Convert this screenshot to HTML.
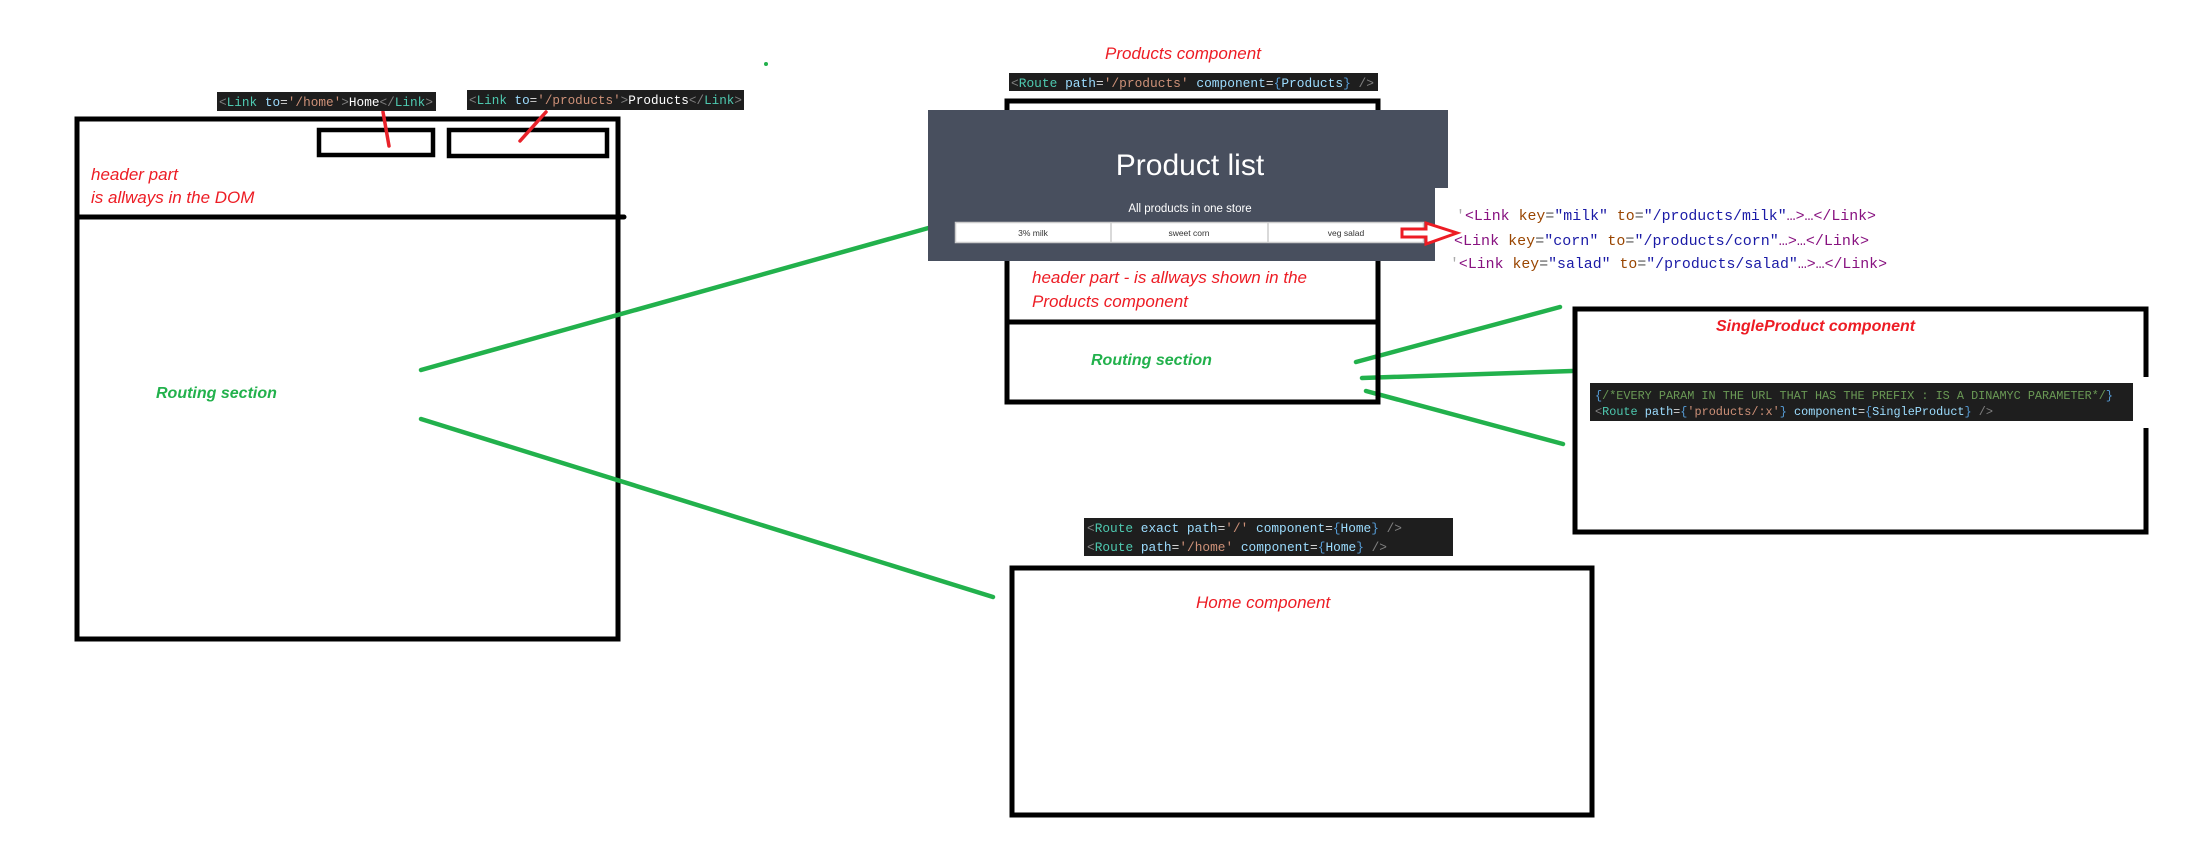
<!DOCTYPE html>
<html><head><meta charset="utf-8"><style>
html,body{margin:0;padding:0;background:#fff;}
svg{display:block}
.m{font-family:"Liberation Mono",monospace;}
.s{font-family:"Liberation Sans",sans-serif;}
</style></head><body>
<svg width="2212" height="848" viewBox="0 0 2212 848" xmlns="http://www.w3.org/2000/svg">
<rect width="2212" height="848" fill="#fff"/>
<circle cx="766" cy="64" r="2" fill="#22b14c"/>

<rect x="77" y="119" width="541" height="520" fill="none" stroke="#000" stroke-width="5"/>
<line x1="77" y1="217" x2="624" y2="217" stroke="#000" stroke-width="5" stroke-linecap="round"/>
<rect x="319" y="130" width="114" height="25" fill="none" stroke="#000" stroke-width="4.5"/>
<rect x="449" y="130" width="158" height="26" fill="none" stroke="#000" stroke-width="4.5"/>
<line x1="383" y1="112" x2="389" y2="146" stroke="#e8222a" stroke-width="3.5" stroke-linecap="round"/>
<line x1="546" y1="112" x2="520" y2="141" stroke="#e8222a" stroke-width="3.5" stroke-linecap="round"/>
<rect x="217" y="92" width="219" height="19" fill="#1e1e1e"/>
<text class="m" x="219" y="106" font-size="13" textLength="214" lengthAdjust="spacingAndGlyphs"><tspan fill="#808080">&lt;</tspan><tspan fill="#4ec9b0">Link</tspan> <tspan fill="#9cdcfe">to</tspan><tspan fill="#d4d4d4">=</tspan><tspan fill="#ce9178">'/home'</tspan><tspan fill="#808080">&gt;</tspan><tspan fill="#fff">Home</tspan><tspan fill="#808080">&lt;/</tspan><tspan fill="#4ec9b0">Link</tspan><tspan fill="#808080">&gt;</tspan></text>
<rect x="467" y="90" width="277" height="20" fill="#1e1e1e"/>
<text class="m" x="469" y="104" font-size="13" textLength="273" lengthAdjust="spacingAndGlyphs"><tspan fill="#808080">&lt;</tspan><tspan fill="#4ec9b0">Link</tspan> <tspan fill="#9cdcfe">to</tspan><tspan fill="#d4d4d4">=</tspan><tspan fill="#ce9178">'/products'</tspan><tspan fill="#808080">&gt;</tspan><tspan fill="#fff">Products</tspan><tspan fill="#808080">&lt;/</tspan><tspan fill="#4ec9b0">Link</tspan><tspan fill="#808080">&gt;</tspan></text>
<text class="s" x="91" y="180" font-size="17" font-style="italic" fill="#ed1c24">header part</text>
<text class="s" x="91" y="203" font-size="17" font-style="italic" fill="#ed1c24">is allways in the DOM</text>
<text class="s" x="156" y="398" font-size="16" font-style="italic" font-weight="bold" fill="#22b14c">Routing section</text>

<g stroke="#22b14c" stroke-width="4.5" stroke-linecap="round">
<line x1="421" y1="370" x2="932" y2="227"/>
<line x1="421" y1="419" x2="993" y2="597"/>
<line x1="1356" y1="362" x2="1560" y2="307"/>
<line x1="1362" y1="378" x2="1572" y2="371"/>
<line x1="1366" y1="391" x2="1563" y2="444"/>
</g>

<text class="s" x="1105" y="59" font-size="17" font-style="italic" fill="#ed1c24">Products component</text>
<rect x="1009" y="73" width="369" height="18" fill="#1e1e1e"/>
<text class="m" x="1011" y="87" font-size="13" textLength="363" lengthAdjust="spacingAndGlyphs"><tspan fill="#808080">&lt;</tspan><tspan fill="#4ec9b0">Route</tspan> <tspan fill="#9cdcfe">path</tspan><tspan fill="#d4d4d4">=</tspan><tspan fill="#ce9178">'/products'</tspan> <tspan fill="#9cdcfe">component</tspan><tspan fill="#d4d4d4">=</tspan><tspan fill="#569cd6">{</tspan><tspan fill="#9cdcfe">Products</tspan><tspan fill="#569cd6">}</tspan> <tspan fill="#808080">/&gt;</tspan></text>
<rect x="1007" y="101" width="371" height="301" fill="none" stroke="#000" stroke-width="5"/>
<line x1="1007" y1="322" x2="1378" y2="322" stroke="#000" stroke-width="5"/>
<polygon points="928,110 1448,110 1448,188 1435,188 1435,261 928,261" fill="#484f5e"/>
<text class="s" x="1190" y="175" font-size="30" fill="#fff" text-anchor="middle">Product list</text>
<text class="s" x="1190" y="212" font-size="11.5" fill="#fff" text-anchor="middle">All products in one store</text>
<rect x="955.5" y="222.5" width="468" height="20" fill="#fff" stroke="#ccc" stroke-width="1.5"/>
<line x1="1111" y1="222" x2="1111" y2="243" stroke="#ccc" stroke-width="1.5"/>
<line x1="1268" y1="222" x2="1268" y2="243" stroke="#ccc" stroke-width="1.5"/>
<text class="s" x="1033" y="236" font-size="8.5" fill="#333" text-anchor="middle">3% milk</text>
<text class="s" x="1189" y="236" font-size="8.5" fill="#333" text-anchor="middle">sweet corn</text>
<text class="s" x="1346" y="236" font-size="8.5" fill="#333" text-anchor="middle">veg salad</text>
<polygon points="1402,229 1426,229 1426,223 1457,233 1426,244 1426,237 1402,237" fill="#fff" stroke="#ed1c24" stroke-width="3"/>
<text class="s" x="1032" y="283" font-size="17" font-style="italic" fill="#ed1c24">header part - is allways shown in the</text>
<text class="s" x="1032" y="307" font-size="17" font-style="italic" fill="#ed1c24">Products component</text>
<text class="s" x="1091" y="365" font-size="16" font-style="italic" font-weight="bold" fill="#22b14c">Routing section</text>

<g class="m" font-size="15">
<text x="1456" y="220" textLength="420" lengthAdjust="spacingAndGlyphs"><tspan fill="#aaa">'</tspan><tspan fill="#881280">&lt;Link</tspan> <tspan fill="#994500">key</tspan><tspan fill="#555">=</tspan><tspan fill="#1a1aa6">"milk"</tspan> <tspan fill="#994500">to</tspan><tspan fill="#555">=</tspan><tspan fill="#1a1aa6">"/products/milk"</tspan><tspan fill="#881280">…&gt;…&lt;/Link&gt;</tspan></text>
<text x="1454" y="245" textLength="415" lengthAdjust="spacingAndGlyphs"><tspan fill="#881280">&lt;Link</tspan> <tspan fill="#994500">key</tspan><tspan fill="#555">=</tspan><tspan fill="#1a1aa6">"corn"</tspan> <tspan fill="#994500">to</tspan><tspan fill="#555">=</tspan><tspan fill="#1a1aa6">"/products/corn"</tspan><tspan fill="#881280">…&gt;…&lt;/Link&gt;</tspan></text>
<text x="1450" y="268" textLength="437" lengthAdjust="spacingAndGlyphs"><tspan fill="#aaa">'</tspan><tspan fill="#881280">&lt;Link</tspan> <tspan fill="#994500">key</tspan><tspan fill="#555">=</tspan><tspan fill="#1a1aa6">"salad"</tspan> <tspan fill="#994500">to</tspan><tspan fill="#555">=</tspan><tspan fill="#1a1aa6">"/products/salad"</tspan><tspan fill="#881280">…&gt;…&lt;/Link&gt;</tspan></text>
</g>

<rect x="1575" y="309" width="571" height="223" fill="none" stroke="#000" stroke-width="5"/>
<rect x="2140" y="377" width="12" height="51" fill="#fff"/>
<text class="s" x="1716" y="331" font-size="16" font-style="italic" font-weight="bold" fill="#ed1c24">SingleProduct component</text>
<rect x="1590" y="383" width="543" height="38" fill="#1e1e1e"/>
<text class="m" x="1595" y="399" font-size="11.5" textLength="518" lengthAdjust="spacingAndGlyphs"><tspan fill="#569cd6">{</tspan><tspan fill="#6a9955">/*EVERY PARAM IN THE URL THAT HAS THE PREFIX : IS A DINAMYC PARAMETER*/</tspan><tspan fill="#569cd6">}</tspan></text>
<text class="m" x="1595" y="415" font-size="11.5" textLength="398" lengthAdjust="spacingAndGlyphs"><tspan fill="#808080">&lt;</tspan><tspan fill="#4ec9b0">Route</tspan> <tspan fill="#9cdcfe">path</tspan><tspan fill="#d4d4d4">=</tspan><tspan fill="#569cd6">{</tspan><tspan fill="#ce9178">'products/:x'</tspan><tspan fill="#569cd6">}</tspan> <tspan fill="#9cdcfe">component</tspan><tspan fill="#d4d4d4">=</tspan><tspan fill="#569cd6">{</tspan><tspan fill="#9cdcfe">SingleProduct</tspan><tspan fill="#569cd6">}</tspan> <tspan fill="#808080">/&gt;</tspan></text>

<rect x="1084" y="518" width="369" height="38" fill="#1e1e1e"/>
<text class="m" x="1087" y="532" font-size="13" textLength="315" lengthAdjust="spacingAndGlyphs"><tspan fill="#808080">&lt;</tspan><tspan fill="#4ec9b0">Route</tspan> <tspan fill="#9cdcfe">exact</tspan> <tspan fill="#9cdcfe">path</tspan><tspan fill="#d4d4d4">=</tspan><tspan fill="#ce9178">'/'</tspan> <tspan fill="#9cdcfe">component</tspan><tspan fill="#d4d4d4">=</tspan><tspan fill="#569cd6">{</tspan><tspan fill="#9cdcfe">Home</tspan><tspan fill="#569cd6">}</tspan> <tspan fill="#808080">/&gt;</tspan></text>
<text class="m" x="1087" y="551" font-size="13" textLength="300" lengthAdjust="spacingAndGlyphs"><tspan fill="#808080">&lt;</tspan><tspan fill="#4ec9b0">Route</tspan> <tspan fill="#9cdcfe">path</tspan><tspan fill="#d4d4d4">=</tspan><tspan fill="#ce9178">'/home'</tspan> <tspan fill="#9cdcfe">component</tspan><tspan fill="#d4d4d4">=</tspan><tspan fill="#569cd6">{</tspan><tspan fill="#9cdcfe">Home</tspan><tspan fill="#569cd6">}</tspan> <tspan fill="#808080">/&gt;</tspan></text>
<rect x="1012" y="568" width="580" height="247" fill="none" stroke="#000" stroke-width="5"/>
<text class="s" x="1196" y="608" font-size="17" font-style="italic" fill="#ed1c24">Home component</text>
</svg>
</body></html>
